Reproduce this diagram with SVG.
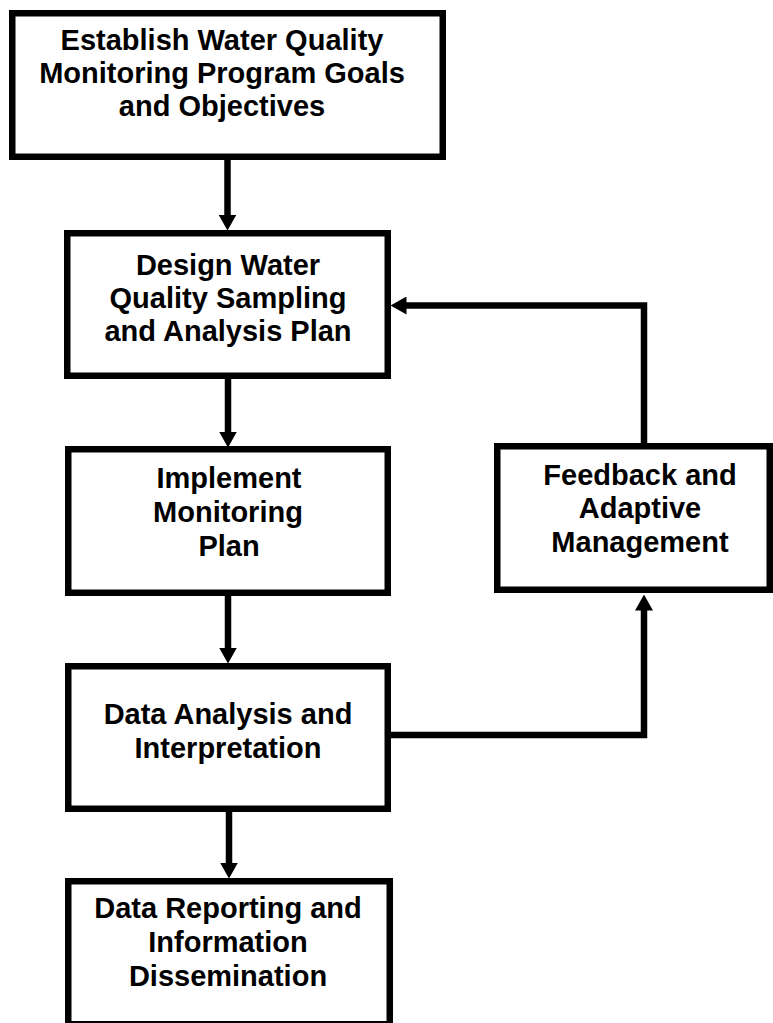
<svg xmlns="http://www.w3.org/2000/svg" width="773" height="1023" viewBox="0 0 773 1023">
<style>
.box{fill:#fff;stroke:#000;stroke-width:6.5}
.t{font-family:"Liberation Sans",Arial,sans-serif;font-weight:bold;font-size:29px;fill:#000;text-anchor:middle}
.c{fill:none;stroke:#000;stroke-width:6.5}
</style>
<defs>
<marker id="ah" markerUnits="userSpaceOnUse" markerWidth="16" markerHeight="18" viewBox="0 0 16 18" refX="0.5" refY="9" orient="auto">
<path d="M0,0 L16,9 L0,18 Z" fill="#000"/>
</marker>
</defs>
<rect width="773" height="1023" fill="#fff"/>
<g id="connectors">
<path class="c" d="M227.5,160 V215" marker-end="url(#ah)"/>
<path class="c" d="M228,379 V432" marker-end="url(#ah)"/>
<path class="c" d="M228,596 V648" marker-end="url(#ah)"/>
<path class="c" d="M229,812 V863" marker-end="url(#ah)"/>
<path class="c" d="M391,735 H644 V610" marker-end="url(#ah)"/>
<path class="c" d="M644,443 V305.5 H406" marker-end="url(#ah)"/>
</g>
<g id="goals">
<rect class="box" x="12.25" y="13.25" width="430.5" height="143.5"/>
<text class="t" x="222" y="50">Establish Water Quality</text>
<text class="t" x="222" y="83">Monitoring Program Goals</text>
<text class="t" x="222" y="116">and Objectives</text>
</g>
<g id="design">
<rect class="box" x="67.25" y="233.25" width="320.5" height="142.5"/>
<text class="t" x="228" y="275">Design Water</text>
<text class="t" x="228" y="308">Quality Sampling</text>
<text class="t" x="228" y="341">and Analysis Plan</text>
</g>
<g id="implement">
<rect class="box" x="68.25" y="449.25" width="319.5" height="143.5"/>
<text class="t" x="229" y="488">Implement</text>
<text class="t" x="228" y="522">Monitoring</text>
<text class="t" x="229" y="556">Plan</text>
</g>
<g id="feedback">
<rect class="box" x="497.25" y="446.25" width="272.5" height="143.5"/>
<text class="t" x="640" y="485">Feedback and</text>
<text class="t" x="640" y="518">Adaptive</text>
<text class="t" x="640" y="552">Management</text>
</g>
<g id="analysis">
<rect class="box" x="68.25" y="666.25" width="319.5" height="142.5"/>
<text class="t" x="228" y="724">Data Analysis and</text>
<text class="t" x="228" y="758">Interpretation</text>
</g>
<g id="reporting">
<rect class="box" x="68.25" y="881.25" width="321.5" height="143"/>
<text class="t" x="228" y="918">Data Reporting and</text>
<text class="t" x="228" y="952">Information</text>
<text class="t" x="228" y="986">Dissemination</text>
</g>
</svg>
